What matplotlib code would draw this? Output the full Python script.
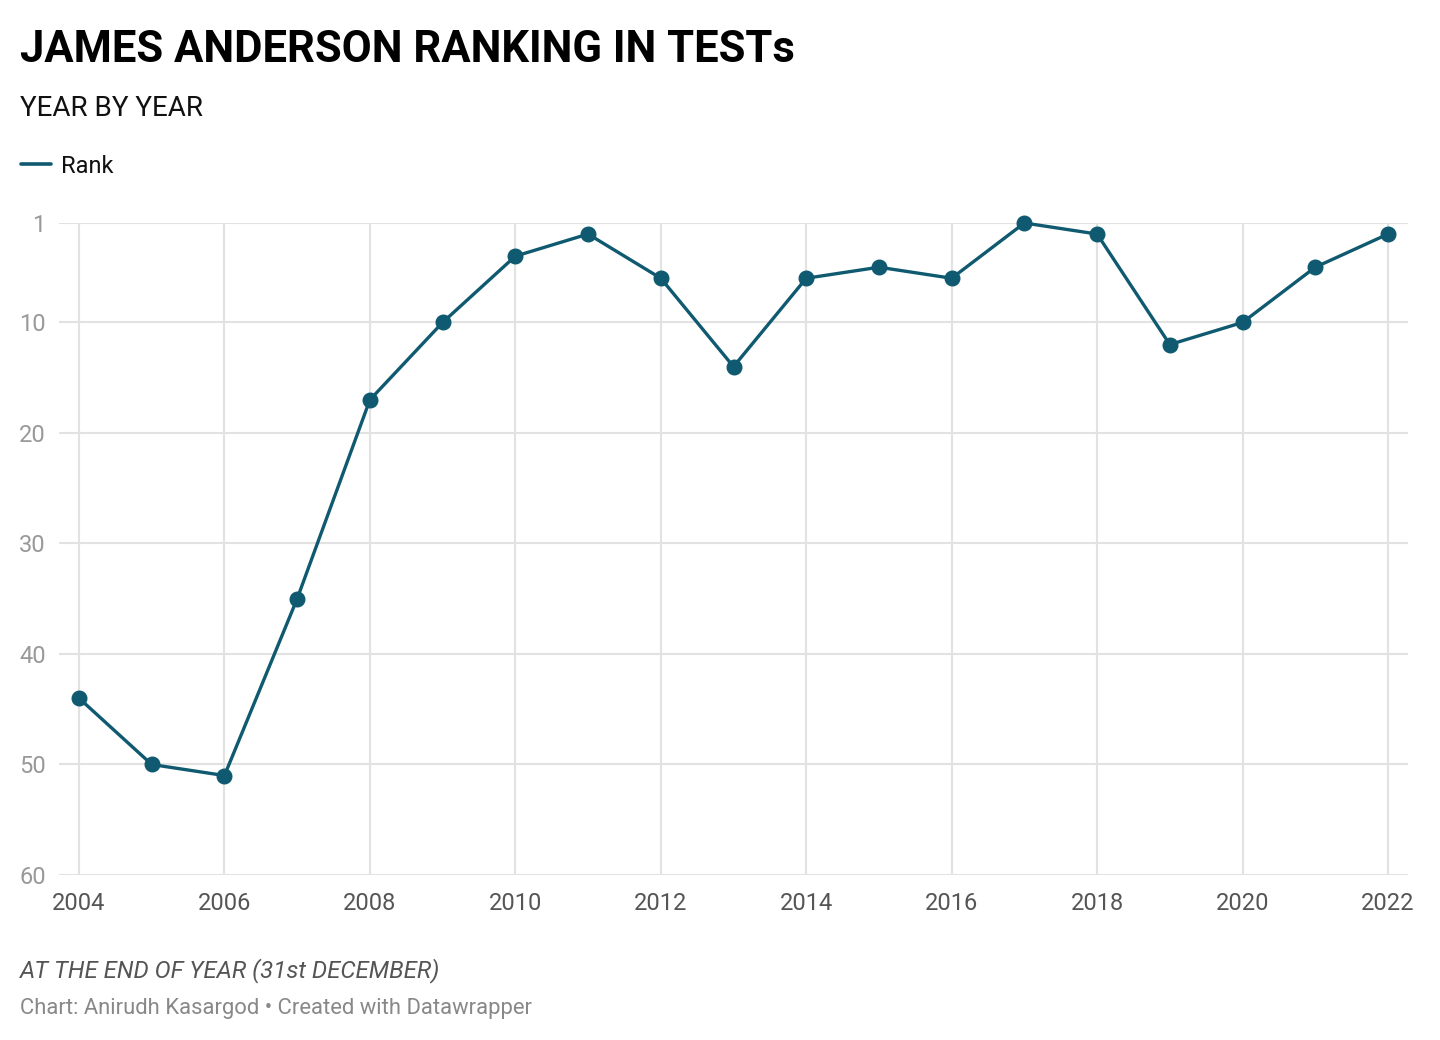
import matplotlib
matplotlib.use("Agg")
import matplotlib.pyplot as plt

years = [2004, 2005, 2006, 2007, 2008, 2009, 2010, 2011, 2012, 2013,
         2014, 2015, 2016, 2017, 2018, 2019, 2020, 2021, 2022]
rank = [44, 50, 51, 35, 17, 10, 4, 2, 6, 14, 6, 5, 6, 1, 2, 12, 10, 5, 2]
y_ticks = [1, 10, 20, 30, 40, 50, 60]
x_ticks = list(range(2004, 2023, 2))

title = "JAMES ANDERSON RANKING IN TESTs"
subtitle = "YEAR BY YEAR"
legend_label = "Rank"
note = "AT THE END OF YEAR (31st DECEMBER)"
credit = "Chart: Anirudh Kasargod \u2022 Created with Datawrapper"

plt.rcParams['font.family'] = ['Roboto', 'DejaVu Sans']
W, H = 1440, 1040
fig = plt.figure(figsize=(W / 100, H / 100), dpi=100)
fig.patch.set_facecolor('white')

color = '#0f5a70'
grid_c = '#e2e2e2'

ax = fig.add_axes([59 / W, 1 - 875 / H, (1408 - 59) / W, (875 - 223) / H])
ax.plot(years, rank, color=color, lw=2.4, marker='o', markersize=10.5,
        clip_on=False, zorder=3)
ax.set_ylim(60, 1)
ax.set_xlim(2004 - 20 / 72.72, 2022 + 20 / 72.72)
ax.set_yticks(y_ticks)
ax.set_xticks(x_ticks)
for s in ax.spines.values():
    s.set_visible(False)
ax.grid(True, color=grid_c, lw=1.5, zorder=0)
ax.set_axisbelow(True)
ax.tick_params(axis='both', length=0)
ax.tick_params(axis='y', pad=9.5, labelsize=17, labelcolor='#999999')
ax.tick_params(axis='x', pad=12.5, labelsize=17, labelcolor='#555555')

fig.text(20 / W, 1 - 62 / H, title, fontsize=31.4, fontweight='bold',
         color='#000000', va='baseline', ha='left')
fig.text(20 / W, 1 - 116 / H, subtitle, fontsize=20, color='#111111',
         va='baseline', ha='left')
fig.add_artist(plt.Line2D([21 / W, 51 / W], [1 - 164 / H, 1 - 164 / H],
                          color=color, lw=2.6, solid_capstyle='round'))
fig.text(61 / W, 1 - 173 / H, legend_label, fontsize=17, color='#111111',
         va='baseline', ha='left')
fig.text(20 / W, 1 - 977 / H, note, fontsize=17.3, color='#555555',
         style='italic', va='baseline', ha='left')
fig.text(20 / W, 1 - 1014 / H, credit, fontsize=15.8, color='#888888',
         va='baseline', ha='left')

fig.savefig('out.png', dpi=100, facecolor='white')
